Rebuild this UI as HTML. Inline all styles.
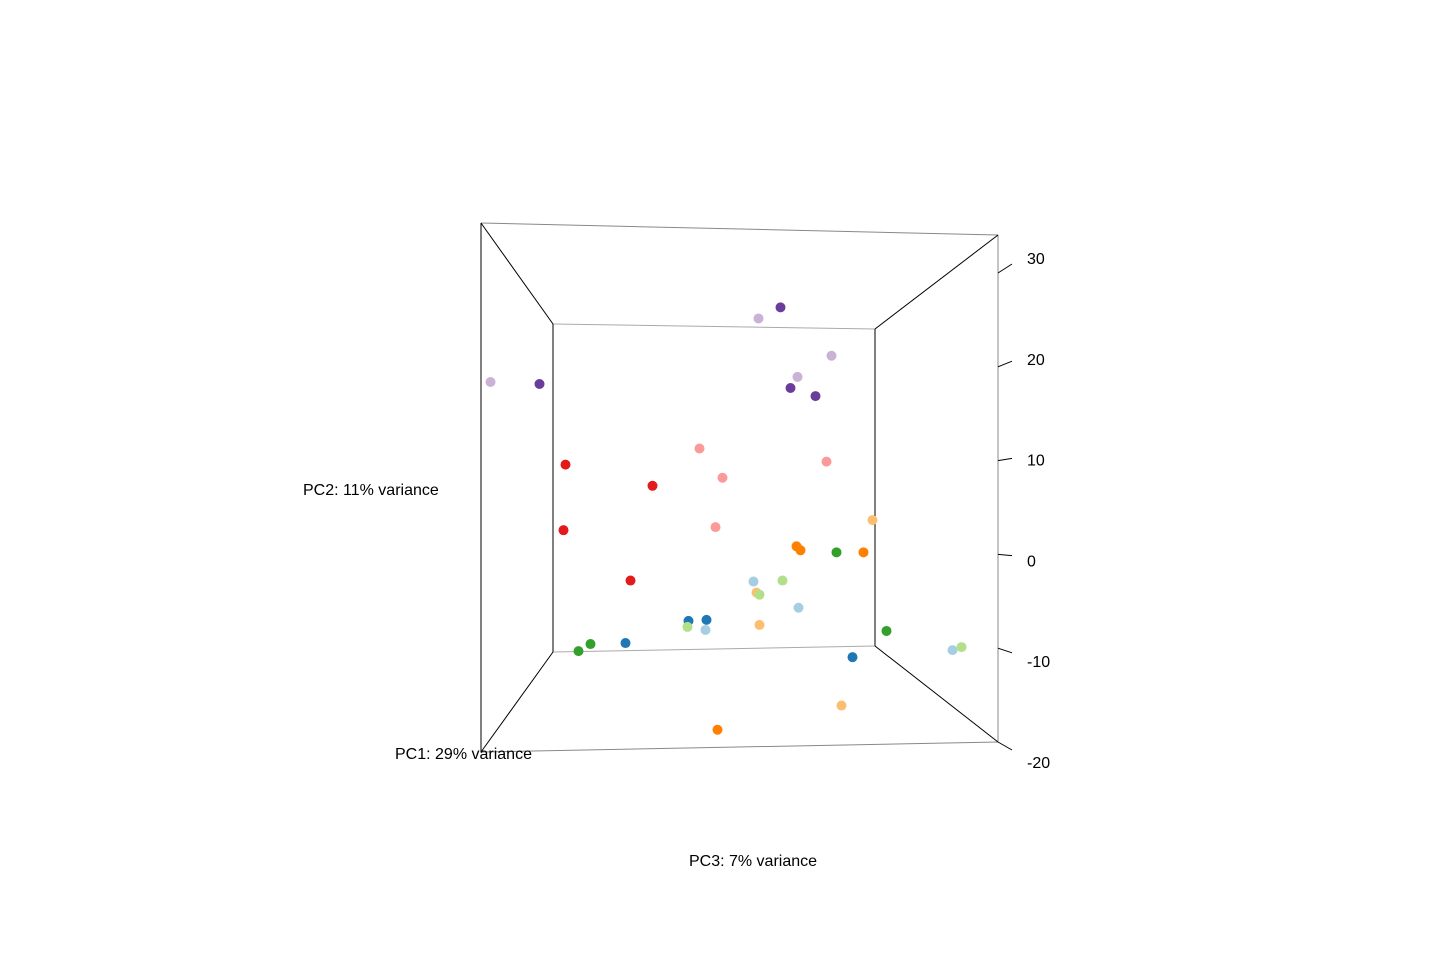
<!DOCTYPE html>
<html><head><meta charset="utf-8"><style>
body{margin:0;background:#fff}
svg{display:block;font-family:"Liberation Sans",sans-serif;font-size:16px}
</style></head><body>
<svg width="1454" height="977" viewBox="0 0 1454 977">
<g fill="none" stroke-width="1">
<line x1="481" y1="223" x2="998" y2="235" stroke="#888"/>
<line x1="998" y1="235" x2="998" y2="742" stroke="#888"/>
<line x1="481" y1="752" x2="998" y2="742" stroke="#888"/>
<line x1="481" y1="223" x2="481" y2="752" stroke="#000"/>
<line x1="553" y1="324" x2="875" y2="329" stroke="#aaa"/>
<line x1="553" y1="652" x2="875" y2="646" stroke="#aaa"/>
<line x1="553" y1="324" x2="553" y2="652" stroke="#000"/>
<line x1="875" y1="329" x2="875" y2="646" stroke="#000"/>
<line x1="481" y1="223" x2="553" y2="324" stroke="#000"/>
<line x1="998" y1="235" x2="875" y2="329" stroke="#000"/>
<line x1="481" y1="752" x2="553" y2="652" stroke="#000"/>
<line x1="998" y1="742" x2="875" y2="646" stroke="#000"/>
</g>
<g id="ticks"></g>
<g id="pts"></g>
<text x="303" y="495">PC2: 11% variance</text>
<text x="395" y="759">PC1: 29% variance</text>
<text x="753" y="866" text-anchor="middle">PC3: 7% variance</text>
</svg>
<script>
const tickValues=[30,20,10,0,-10,-20];
const tickLabels=["30","20","10","0","-10","-20"];
const pointH=[0.9,5.8,29.9,27.7,35.0,31.6,30.9,33.4,8.4,17.1,8.2,14.9,21.8,24.1,34.5,23.4,39.1,31.5,31.9,35.5,38.2,27.2,30.1,27.5,27.8,31.7,20.7,22.5,20.6,22.4,27.8,10.9,9.7,14.4,40.5,37.1,47.1,48.0,36.0,23.6];
const pointV=[17.8,17.6,25.2,24.1,20.4,18.3,17.2,16.4,9.6,7.5,3.1,-1.9,11.2,8.3,9.9,3.4,4.1,1.5,1.1,0.9,0.9,-2.0,-1.9,-3.1,-3.3,-4.6,-5.9,-5.8,-6.5,-6.8,-6.3,-8.2,-8.9,-8.1,-6.9,-9.5,-8.8,-8.5,-14.3,-16.7];
const pointGroup=[8,9,9,8,8,8,9,9,5,5,5,5,4,4,4,4,6,7,7,3,7,0,2,6,2,0,1,1,2,0,6,3,3,1,3,1,0,2,6,7];
const palette=["#A6CEE3","#1F78B4","#B2DF8A","#33A02C","#FB9A99","#E31A1C","#FDBF6F","#FF7F00","#CAB2D6","#6A3D9A"];
const NS="http://www.w3.org/2000/svg";
function sx(h){return 481+h*10;}
function sy(v){return 258+(30-v)*10.08;}
function tickY0(v){return 742-(v+20)*9.38;}
function tickY1(v){return 750-(v+20)*9.72;}
const tg=document.getElementById('ticks');
tickValues.forEach((v,i)=>{
 const l=document.createElementNS(NS,'line');
 l.setAttribute('x1',998);l.setAttribute('y1',tickY0(v));
 l.setAttribute('x2',1012);l.setAttribute('y2',tickY1(v));
 l.setAttribute('stroke','#000');
 
 
 tg.appendChild(l);
 const t=document.createElementNS(NS,'text');
 t.setAttribute('x',1027);t.setAttribute('y',sy(v)+6);
 t.textContent=tickLabels[i];
 
 
 tg.appendChild(t);
});
const pg=document.getElementById('pts');
pointH.forEach((h,i)=>{
 const c=document.createElementNS(NS,'circle');
 c.setAttribute('cx',sx(h)+0.5);c.setAttribute('cy',sy(pointV[i])+1);
 c.setAttribute('r',5);c.setAttribute('fill',palette[pointGroup[i]]);
 
 
 pg.appendChild(c);
});
</script>
</body></html>
